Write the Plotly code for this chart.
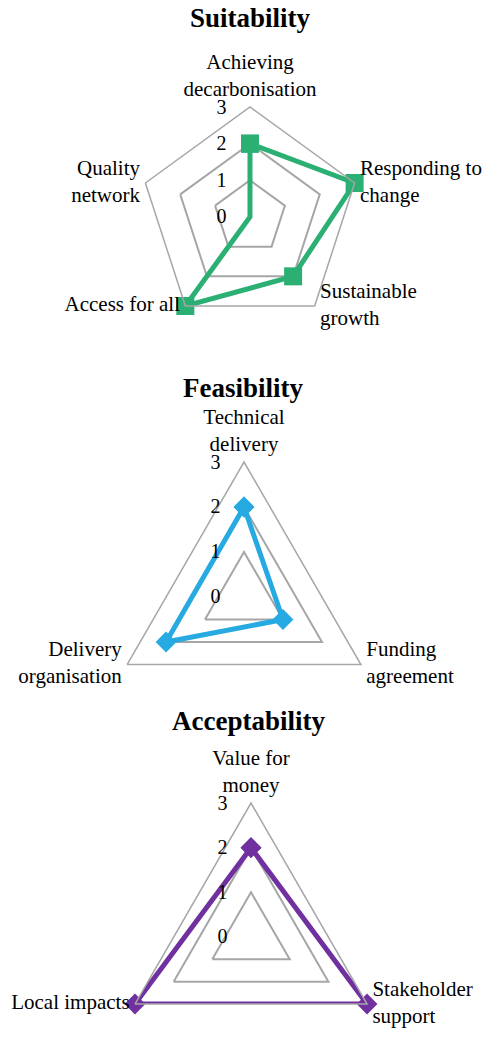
import plotly.graph_objects as go

# chart data
suit_cats = ['Achieving<br>decarbonisation', 'Responding to<br>change', 'Sustainable<br>growth',
             'Access for all', 'Quality<br>network']
suit_vals = [2, 3, 2, 3, 0]

feas_cats = ['Technical<br>delivery', 'Funding<br>agreement', 'Delivery<br>organisation']
feas_vals = [2, 1, 2]

acc_cats = ['Value for<br>money', 'Stakeholder<br>support', 'Local impacts']
acc_vals = [2, 3, 3]

titles = ['Suitability', 'Feasibility', 'Acceptability']
radial_ticks = [0, 1, 2, 3]
r_max = 3

# page body adds an 8px margin, so layout pixels are shifted by it
OFF = 8
W, H = 500, 1064
FONT = 'Times New Roman, Liberation Serif, serif'
GRID = '#A6A6A6'


def dom(cx, cy, r):
    # polar domain from centre/radius in screen pixels (measured from the top)
    cx, cy = cx - OFF, cy - OFF
    return dict(x=[(cx - r) / W, (cx + r) / W], y=[1 - (cy + r) / H, 1 - (cy - r) / H])


def polar_layout(domain):
    return dict(
        domain=domain,
        gridshape='linear',
        bgcolor='white',
        radialaxis=dict(
            range=[-0.001, r_max],
            tickvals=radial_ticks,
            angle=90,
            tickangle=90,
            side='counterclockwise',
            showline=False,
            gridcolor=GRID,
            gridwidth=1.5,
            ticks='outside',
            ticklen=16,
            tickcolor='rgba(0,0,0,0)',
            tickfont=dict(size=20, color='black', family=FONT),
        ),
        angularaxis=dict(
            direction='clockwise',
            rotation=90,
            showgrid=False,
            showline=True,
            linecolor=GRID,
            linewidth=1.5,
            ticks='',
            showticklabels=False,
        ),
    )


def add_radar(fig, cats, vals, color, symbol, size, subplot, label_pos):
    fig.add_trace(go.Scatterpolar(
        r=vals + vals[:1], theta=cats + cats[:1], mode='lines+markers', subplot=subplot,
        line=dict(color=color, width=5),
        marker=dict(symbol=symbol, size=size, color=color),
        cliponaxis=False))
    # category labels sit at the outer ring (invisible marker gives a little padding)
    fig.add_trace(go.Scatterpolar(
        r=[r_max] * len(cats), theta=cats, mode='markers+text', text=cats, subplot=subplot,
        marker=dict(size=7, opacity=0),
        textposition=label_pos, textfont=dict(size=21, color='black', family=FONT),
        cliponaxis=False, hoverinfo='skip'))


fig = go.Figure()
add_radar(fig, suit_cats, suit_vals, '#2BAF73', 'square', 18, 'polar',
          ['top center', 'middle right', 'middle right', 'middle left', 'middle left'])
add_radar(fig, feas_cats, feas_vals, '#27A9E1', 'diamond', 16, 'polar2',
          ['top center', 'middle right', 'middle left'])
add_radar(fig, acc_cats, acc_vals, '#7030A0', 'diamond', 16, 'polar3',
          ['top center', 'middle right', 'middle left'])

title_pos = [(250, 18), (243, 388), (248, 721)]
annotations = [
    dict(text=f'<b>{txt}</b>', x=(x - OFF) / W, y=1 - (y - OFF) / H, xref='paper', yref='paper',
         xanchor='center', yanchor='middle', showarrow=False,
         font=dict(size=27, color='black', family=FONT))
    for txt, (x, y) in zip(titles, title_pos)
]

fig.update_layout(
    width=W,
    height=H,
    margin=dict(l=0, r=0, t=0, b=0),
    paper_bgcolor='white',
    plot_bgcolor='white',
    showlegend=False,
    font=dict(family=FONT, color='black'),
    polar=polar_layout(dom(250, 217, 110)),
    polar2=polar_layout(dom(244, 597, 135)),
    polar3=polar_layout(dom(251, 937, 134)),
    annotations=annotations,
)

fig.write_html("out.html")
